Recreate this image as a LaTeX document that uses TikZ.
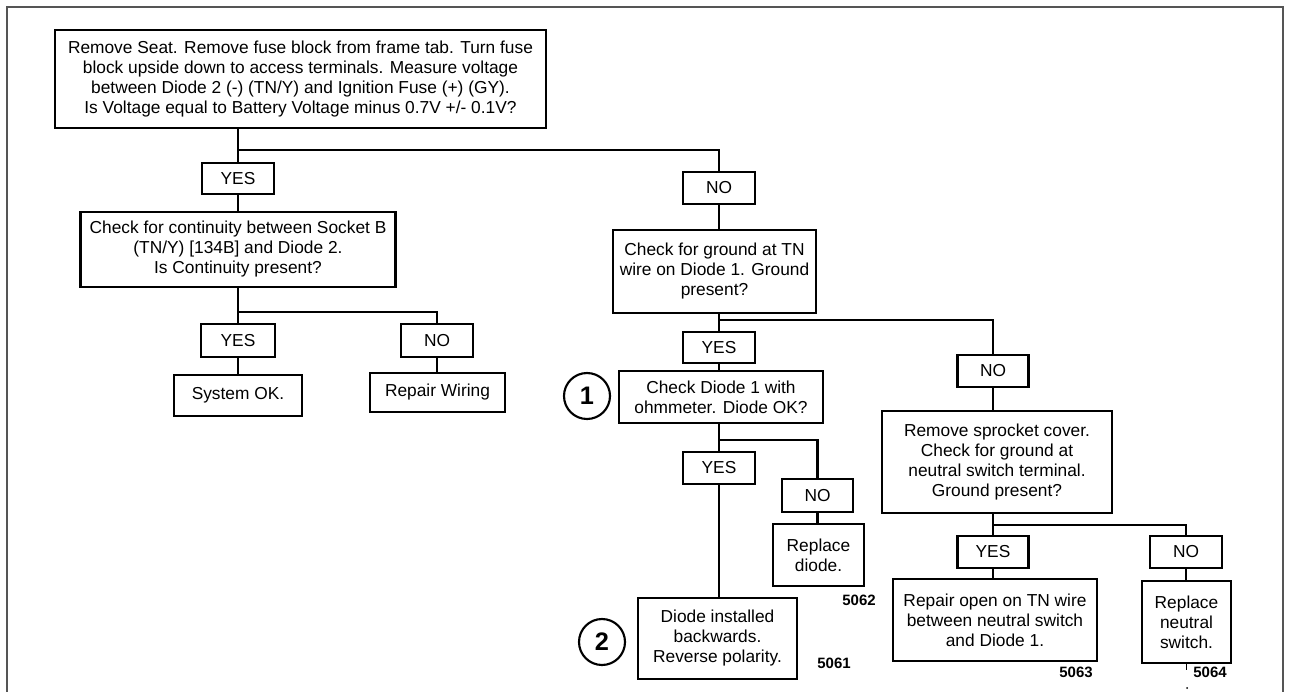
\documentclass[tikz,border=0pt]{standalone}
\usepackage{fontspec}
\setmainfont{Liberation Sans}
\definecolor{framegray}{RGB}{85,85,85}
\begin{document}
\begin{tikzpicture}[x=0.75pt,y=-0.75pt,
  box/.style={draw,line width=1.7pt,inner sep=0pt,align=center,font=\fontsize{13}{15}\selectfont},
  sz/.style 2 args={minimum width=#1*0.75pt,minimum height=#2*0.75pt},
  conn/.style={line width=1.7pt},
  num/.style={font=\bfseries\fontsize{11.25}{13}\selectfont,inner sep=0pt},
  circ/.style={draw,circle,line width=1.6pt,minimum size=34.5pt,inner sep=0pt,font=\bfseries\fontsize{19}{19}\selectfont},
  frame/.style={draw=framegray,line width=1.5pt}]
\useasboundingbox (0,0) rectangle (1289,692);
\fill[white] (0,0) rectangle (1289,692);
\draw[frame] (7,692) -- (7,7) -- (1283,7) -- (1283,692);

% nodes
\node[box,sz={491}{98}] (top) at (300.5,79) {Remove Seat. Remove fuse block from frame tab. Turn fuse\\block upside down to access terminals. Measure voltage\\between Diode 2 (-) (TN/Y) and Ignition Fuse (+) (GY).\\Is Voltage equal to Battery Voltage minus 0.7V +/- 0.1V?};
\node[box,sz={72}{31}] (yes1) at (238,178.5) {YES};
\node[box,sz={72}{32}] (no1) at (719,188) {NO};
\node[box,sz={315}{75}] (chk1) at (238,249.5) {Check for continuity between Socket B\\(TN/Y) [134B] and Diode 2.\\Is Continuity present?};
\node[box,sz={74}{33}] (yes2) at (238,340.5) {YES};
\node[box,sz={72}{33}] (no2) at (437,340.5) {NO};
\node[box,sz={128}{41}] (sysok) at (238,395.5) {System OK.};
\node[box,sz={135}{39}] (repw) at (437.5,392.5) {Repair Wiring};

\node[box,sz={203}{83}] (chk2) at (714.5,271.5) {Check for ground at TN\\wire on Diode 1. Ground\\present?};
\node[box,sz={72}{31}] (yes3) at (719,347.5) {YES};
\node[box,sz={71}{32}] (no3) at (993,371) {NO};
\node[box,sz={204}{52}] (diode1) at (721,397) {Check Diode 1 with\\ohmmeter. Diode OK?};
\node[circ] (c1) at (587,396) {1};
\node[box,sz={72}{32}] (yes4) at (719,468) {YES};
\node[box,sz={71}{33}] (no4) at (817.5,495.5) {NO};
\node[box,sz={91}{62}] (repd) at (818.5,555) {Replace\\diode.};
\node[box,sz={159}{81}] (dinst) at (717.5,638.5) {Diode installed\\backwards.\\Reverse polarity.};
\node[circ] (c2) at (602,642) {2};
\node[num] (n5062) at (859,600) {5062};
\node[num] (n5061) at (834,663) {5061};

\node[box,sz={230}{102}] (neutral) at (997,462) {Remove sprocket cover.\\Check for ground at\\neutral switch terminal.\\Ground present?};
\node[box,sz={71}{32}] (yes5) at (993,552) {YES};
\node[box,sz={72}{32}] (no5) at (1186,552) {NO};
\node[box,sz={204}{82}] (repopen) at (995,620) {Repair open on TN wire\\between neutral switch\\and Diode 1.};
\node[box,sz={89}{82}] (repneut) at (1186.5,622) {Replace\\neutral\\switch.};
\node[num] (n5063) at (1076,672) {5063};
\node[num] (n5064) at (1210,672) {5064};

% junctions
\coordinate (j1) at (238,150);
\coordinate (j2) at (238,312);
\coordinate (j3) at (719,320);
\coordinate (j4) at (719,440);
\coordinate (j5) at (993,525);

% connectors
\draw[conn] (yes1.north |- top.south) -- (yes1.north);
\draw[conn] (j1) -| (no1.north);
\draw[conn] (yes1.south) -- (chk1.north);
\draw[conn] (chk1.south) -- (yes2.north);
\draw[conn] (j2) -| (no2.north);
\draw[conn] (yes2.south) -- (sysok.north);
\draw[conn] (no2.south) -- (no2.south |- repw.north);

\draw[conn] (no1.south) -- (no1.south |- chk2.north);
\draw[conn] (yes3.north |- chk2.south) -- (yes3.north);
\draw[conn] (j3) -| (no3.north);
\draw[conn] (yes3.south) -- (yes3.south |- diode1.north);
\draw[conn] (yes4.north |- diode1.south) -- (yes4.north);
\draw[conn] (j4) -| (no4.north);
\draw[conn] (no4.south) -- (no4.south |- repd.north);
\draw[conn] (yes4.south) -- (yes4.south |- dinst.north);

\draw[conn] (no3.south) -- (no3.south |- neutral.north);
\draw[conn] (yes5.north |- neutral.south) -- (yes5.north);
\draw[conn] (j5) -| (no5.north);
\draw[conn] (yes5.south) -- (yes5.south |- repopen.north);
\draw[conn] (no5.south) -- (no5.south |- repneut.north);

% small marks below last box
\draw[line width=1pt] (repneut.south) -- ++(0,6);
\fill (1187,688) circle (1);
\end{tikzpicture}
\end{document}
